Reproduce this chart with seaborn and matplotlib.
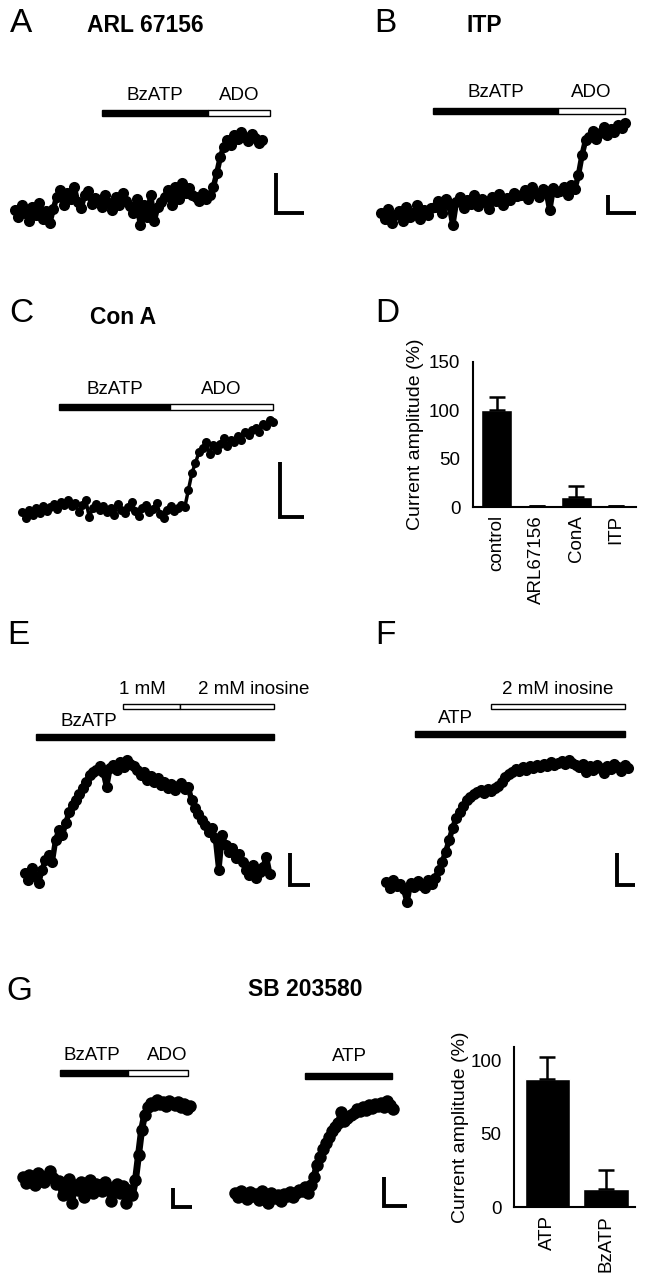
import numpy as np
import matplotlib
matplotlib.use("Agg")
import matplotlib.pyplot as plt
from matplotlib.patches import Rectangle
import seaborn as sns

W, H = 646, 1280

# --- traces: current (pA above holding level), one value per sample ---
arl_current = [25, 18, 30, 22, 14, 28, 20, 32, 16, 24, 12, 26,
               38, 45, 30, 42, 36, 48, 33, 27, 40, 44, 31, 37,
               35, 28, 40, 32, 25, 38, 30, 42, 34, 29,
               22, 36, 10, 30, 18, 40, 14, 28, 33,
               38, 45, 30, 48, 36, 52, 42, 47, 40,
               38, 34, 42, 36, 40,
               48, 62, 78,
               88, 95, 90, 100, 96, 103, 98, 94, 101, 97, 92, 95]
arl_bzatp = (25, 55.5)
arl_ado = (55.5, 73.3)

itp_current = [22, 16, 26, 12, 20, 24, 14, 28, 18, 22, 30, 16, 25, 20, 27,
               28, 34, 22, 36, 30, 10, 33, 38, 27, 35, 31, 40, 29, 36, 33, 26,
               38, 34, 41, 30, 37, 35, 42, 39,
               40, 45, 36, 48, 42, 38, 46, 44, 25, 47, 43,
               44, 48, 40, 50, 46,
               60, 80, 95,
               98, 104, 96, 102, 108, 100, 106, 103, 110, 107, 112]
itp_bzatp = (14.5, 49.3)
itp_ado = (49.3, 68.0)

cona_current = [18, 12, 20, 15, 22, 17, 24, 19, 23, 26, 21, 28, 25,
                30, 24, 27, 18, 25, 30, 13, 22, 26, 20,
                24, 18, 22, 15, 26, 20, 17, 23, 28, 19, 14, 22, 25, 18, 21, 27,
                16, 12, 20, 24, 19, 22, 25, 23,
                40, 57, 67, 78,
                82, 88, 76, 85, 80,
                86, 92, 84, 90, 88,
                94, 90, 98, 95, 100,
                102, 98, 106, 104, 110, 108]
cona_bzatp = (10.5, 41.8)
cona_ado = (41.8, 70.9)

ino_bz_current = [27, 20, 32, 24, 17, 30,
                  40, 45, 38,
                  60, 70, 65, 77,
                  88, 95, 100, 106,
                  112, 118, 125, 128,
                  130, 134, 128, 113, 132,
                  135, 130, 138, 133, 140, 136, 134,
                  130, 125, 128, 120, 124, 118, 122,
                  115, 118, 112, 116, 110, 114, 117, 111, 113,
                  100, 92, 86, 80,
                  75, 68, 72, 62, 30, 65,
                  55, 48, 52, 42, 46, 38,
                  30, 25, 35, 22, 28, 33, 43, 26]
ino_bz_bzatp = (3.2, 73.2)
ino_bz_1mm = (28.8, 45.6)
ino_bz_2mm = (45.6, 73.2)

ino_atp_current = [28, 22, 30, 24, 26, 21, 8, 27, 23, 29, 25, 22, 30, 26,
                   32, 40, 48,
                   58, 70, 82, 92,
                   98, 104, 110, 113,
                   116, 118, 120, 117, 121, 119, 122,
                   124, 128, 133, 136,
                   138, 141, 139, 143, 140, 144, 142, 145, 143,
                   146, 144, 148, 145, 147, 149, 146, 150, 147, 145,
                   143, 146, 138, 144, 140, 145, 142, 137, 144, 141, 146, 143, 139, 145, 142]
ino_atp_atp = (8.3, 68.1)
ino_atp_2mm = (29.9, 68.1)

sb_bz_current = [38, 32, 40, 35, 30, 42, 36, 33, 39, 44, 37, 31,
                 34, 20, 28, 36, 12, 30, 25, 33, 18, 29, 35, 22, 31,
                 30, 24, 33, 28, 14, 26, 31, 22, 29, 12, 25, 20,
                 35, 60, 85, 100,
                 108, 112, 110, 115, 111, 113, 109, 114, 112, 110, 113, 108, 111, 106, 109]
sb_bz_bzatp = (12.2, 34.5)
sb_bz_ado = (34.5, 54.3)

sb_atp_current = [22, 18, 24, 20, 16, 23, 19, 21, 15, 24, 18, 12, 22, 17, 20, 14, 21, 19, 23, 18, 22, 25,
                  24, 28, 22, 30,
                  38, 50, 58, 66, 72, 78, 84,
                  88, 92, 103, 94, 97, 100,
                  102, 106, 104, 108, 105, 110, 107, 111, 109, 112, 108, 114, 110, 106]
sb_atp_atp = (23, 51.6)

# --- summary bars: current amplitude (%) ---
d_groups = ["control", "ARL67156", "ConA", "ITP"]
d_means = [100, 1.5, 10.5, 1.5]
d_sems = [14, 0, 11, 0]

g_groups = ["ATP", "BzATP"]
g_means = [87.5, 12.5]
g_sems = [14.5, 12.5]

sns.set_style("white")
plt.rcParams["font.family"] = ["Liberation Sans", "DejaVu Sans"]
plt.rcParams["text.color"] = "black"
plt.rcParams["axes.labelcolor"] = "black"
plt.rcParams["xtick.color"] = "black"
plt.rcParams["ytick.color"] = "black"

fig = plt.figure(figsize=(W / 100, H / 100), dpi=100)


def px_axes(left, top, right, bottom):
    return fig.add_axes([left / W, 1 - bottom / H, (right - left) / W, (bottom - top) / H])


def fig_text(x, y, s, **kw):
    fig.text(x / W, 1 - y / H, s, **kw)


def trace_panel(box, first_px, step_px, values, ms=8, lw=4):
    left, top, right, bottom = box
    ax = px_axes(left, top, right, bottom)
    t = np.arange(len(values))
    sns.lineplot(x=t, y=values, ax=ax, color="black", linewidth=lw,
                 marker="o", markersize=ms, markeredgewidth=0)
    ax.set_xlim((left - first_px) / step_px, (right - first_px) / step_px)
    ax.set_ylim(0, bottom - top)
    ax.axis("off")
    return ax


def application(ax, span, level, filled=True, thick=6):
    ax.add_patch(Rectangle((span[0], level - thick / 2), span[1] - span[0], thick,
                           facecolor="black" if filled else "white",
                           edgecolor="black", linewidth=1, zorder=3))


def scale_bar(ax, t0, t_len, y0, y_len):
    ax.plot([t0, t0, t0 + t_len], [y0 + y_len, y0, y0], color="black", lw=2.8,
            solid_capstyle="butt", solid_joinstyle="miter")


def label(ax, t, level, s):
    ax.text(t, level, s, ha="center", va="bottom", fontsize=13.5)


# panel letters and titles
for x, y, s in [(10, 23, "A"), (374, 24, "B"), (9, 314, "C"), (375, 313, "D"),
                (7, 635, "E"), (375, 635, "F"), (6, 991, "G")]:
    fig_text(x, y, s, fontsize=24, ha="left", va="center")
for x, y, s in [(87, 25, "ARL 67156"), (466, 26, "ITP"), (90, 318, "Con A"), (248, 989, "SB 203580")]:
    fig_text(x, y, s, fontsize=16.5, fontweight="bold", ha="left", va="center")

# A
ax = trace_panel((10, 60, 312, 235), 15, 3.48, arl_current)
application(ax, arl_bzatp, 122)
application(ax, arl_ado, 122, filled=False)
label(ax, sum(arl_bzatp) / 2, 131, "BzATP")
label(ax, sum(arl_ado) / 2, 131, "ADO")
scale_bar(ax, 75, 8, 22, 40)

# B
ax = trace_panel((370, 60, 640, 235), 381, 3.59, itp_current)
application(ax, itp_bzatp, 124)
application(ax, itp_ado, 124, filled=False)
label(ax, sum(itp_bzatp) / 2, 134, "BzATP")
label(ax, sum(itp_ado) / 2, 134, "ADO")
scale_bar(ax, 63.2, 7.8, 22, 18)

# C
ax = trace_panel((15, 350, 312, 530), 22, 3.54, cona_current, ms=6.5, lw=2.5)
application(ax, cona_bzatp, 123)
application(ax, cona_ado, 123, filled=False)
label(ax, sum(cona_bzatp) / 2, 132, "BzATP")
label(ax, sum(cona_ado) / 2, 132, "ADO")
scale_bar(ax, 72.9, 6.8, 13, 55)

# E
ax = trace_panel((15, 660, 318, 900), 25, 3.4, ino_bz_current)
application(ax, ino_bz_bzatp, 163, thick=6.5)
application(ax, ino_bz_1mm, 194, filled=False, thick=5)
application(ax, ino_bz_2mm, 194, filled=False, thick=5)
label(ax, 18.8, 170, "BzATP")
label(ax, 34.4, 202, "1 mM")
label(ax, 67.4, 202, "2 mM inosine")
scale_bar(ax, 77.9, 5.9, 15, 32)

# F
ax = trace_panel((375, 660, 645, 910), 386, 3.51, ino_atp_current)
application(ax, ino_atp_atp, 176, thick=6.5)
application(ax, ino_atp_2mm, 204, filled=False, thick=5)
label(ax, 19.7, 183, "ATP")
label(ax, sum(ino_atp_2mm) / 2, 212, "2 mM inosine")
scale_bar(ax, 65.8, 5.1, 25, 32)

# G traces
ax = trace_panel((15, 1030, 200, 1215), 23, 3.04, sb_bz_current, ms=9, lw=5)
application(ax, sb_bz_bzatp, 142)
application(ax, sb_bz_ado, 142, filled=False)
label(ax, 22.7, 151, "BzATP")
label(ax, 47.4, 151, "ADO")
scale_bar(ax, 49.3, 6.25, 8, 19)

ax = trace_panel((225, 1030, 412, 1215), 235, 3.04, sb_atp_current, ms=9, lw=5)
application(ax, sb_atp_atp, 139)
label(ax, 37.8, 150, "ATP")
scale_bar(ax, 49, 7.6, 9, 29)


def bar_panel(box, groups, means, sems, xlim, ylim, yticks, labelpad):
    left, top, right, bottom = box
    ax = px_axes(left, top, right, bottom)
    sns.barplot(x=groups, y=means, ax=ax, color="black", saturation=1, width=0.78, errorbar=None)
    ax.errorbar(range(len(groups)), means, yerr=[np.zeros(len(sems)), sems], fmt="none",
                ecolor="black", elinewidth=1.8, capsize=6, capthick=1.8)
    ax.set_xlim(*xlim)
    ax.set_ylim(*ylim)
    ax.set_yticks(yticks)
    ax.set_xticks(range(len(groups)))
    ax.set_xticklabels(groups, rotation=90, fontsize=13.5)
    ax.set_xticks(np.arange(len(groups) + 1) - 0.5, minor=True)
    ax.tick_params(axis="x", which="major", length=0, pad=6)
    ax.tick_params(axis="x", which="minor", length=6, width=1.5, direction="out", color="black")
    ax.tick_params(axis="y", length=6, width=1.5, direction="out", color="black",
                   labelsize=13.5, pad=3)
    ax.set_ylabel("Current amplitude (%)", fontsize=14, labelpad=labelpad)
    ax.set_xlabel("")
    sns.despine(ax=ax)
    for side in ["left", "bottom"]:
        ax.spines[side].set_linewidth(1.5)
        ax.spines[side].set_color("black")
    ax.set_facecolor("none")
    return ax


bar_panel((473, 362, 636, 507), d_groups, d_means, d_sems, (-0.6, 3.5), (0, 150), [0, 50, 100, 150], 4)
bar_panel((514, 1047, 635, 1207), g_groups, g_means, g_sems, (-0.57, 1.5), (0, 109), [0, 50, 100], 1)

fig.savefig("out.png", dpi=100, facecolor="white")
